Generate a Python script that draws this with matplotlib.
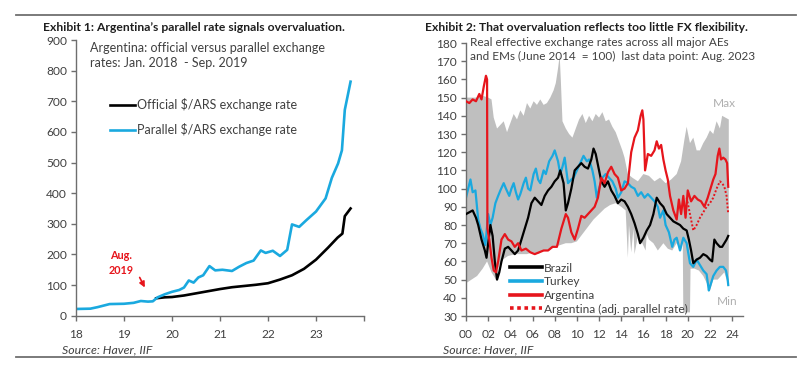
import numpy as np
import matplotlib
matplotlib.use("Agg")
import matplotlib.pyplot as plt
from matplotlib.lines import Line2D

plt.rcParams['font.family'] = ['Lato', 'DejaVu Sans']
plt.rcParams['font.size'] = 8

# ---- Exhibit 1 data: Argentina official vs parallel $/ARS ----
parallel_yr = [2018.0, 2018.3, 2018.45, 2018.6, 2018.7, 2019.0, 2019.2, 2019.35, 2019.5, 2019.6,
               2019.7, 2019.85, 2020.0, 2020.15, 2020.25, 2020.35, 2020.45, 2020.55, 2020.65, 2020.78,
               2020.9, 2021.05, 2021.25, 2021.4, 2021.55, 2021.7, 2021.85, 2021.95, 2022.1, 2022.25,
               2022.4, 2022.5, 2022.65, 2022.8, 2023.0, 2023.2, 2023.33, 2023.46, 2023.54, 2023.6, 2023.72]
parallel_val = [22, 23, 28, 34, 38, 39, 42, 48, 46, 47,
                60, 70, 78, 84, 92, 115, 108, 125, 132, 162,
                148, 150, 146, 160, 172, 180, 213, 205, 212, 195,
                215, 298, 290, 312, 340, 383, 450, 497, 540, 672, 764]
official_yr = [2019.67, 2019.85, 2020.0, 2020.25, 2020.5, 2020.75, 2021.0, 2021.25, 2021.5, 2021.75,
               2022.0, 2022.25, 2022.5, 2022.75, 2023.0, 2023.25, 2023.45, 2023.55, 2023.6, 2023.72]
official_val = [57, 60, 61, 66, 73, 80, 87, 93, 97, 101,
                106, 118, 132, 153, 183, 222, 255, 268, 325, 350]

# ---- Exhibit 2 data: real effective exchange rates (June 2014 = 100) ----
max_yr = [2000.0, 2000.5, 2001.0, 2001.5, 2002.0, 2002.3, 2002.5, 2002.8, 2003.1, 2003.4,
          2003.7, 2004.0, 2004.3, 2004.6, 2004.9, 2005.2, 2005.5, 2005.8, 2006.1, 2006.4,
          2006.7, 2007.0, 2007.3, 2007.6, 2007.9, 2008.1, 2008.3, 2008.45, 2008.55, 2008.7,
          2009.0, 2009.3, 2009.6, 2009.9, 2010.2, 2010.5, 2010.8, 2011.1, 2011.4, 2011.7,
          2012.0, 2012.3, 2012.6, 2012.9, 2013.2, 2013.5, 2013.8, 2014.1, 2014.3, 2014.6,
          2015.0, 2015.5, 2016.0, 2016.5, 2017.0, 2017.5, 2018.0, 2018.5, 2019.0, 2019.4,
          2019.7, 2019.9, 2020.2, 2020.5, 2020.8, 2021.1, 2021.4, 2021.7, 2022.0, 2022.3,
          2022.6, 2022.9, 2023.1, 2023.4, 2023.7]
max_val = [150, 150, 150, 151, 150, 149, 139, 133, 135, 137,
           131, 136, 141, 138, 143, 140, 147, 144, 148, 146,
           149, 146, 147, 150, 154, 158, 166, 173, 160, 137,
           133, 130, 128, 133, 138, 141, 136, 140, 137, 141,
           139, 142, 137, 138, 134, 131, 126, 121, 117, 108,
           106, 104, 108, 107, 104, 106, 103, 105, 108, 115,
           127, 134, 125, 128, 121, 121, 125, 128, 132, 130,
           137, 133, 140, 139, 138]
min_yr = [2000.0, 2000.5, 2001.0, 2001.5, 2001.9, 2002.3, 2002.7, 2003.0, 2003.3, 2003.8,
          2004.5, 2005.0, 2005.5, 2006.0, 2006.5, 2007.0, 2007.5, 2008.0, 2008.5, 2009.0,
          2009.5, 2010.0, 2010.5, 2011.0, 2011.5, 2012.0, 2012.5, 2013.0, 2013.5, 2014.0,
          2014.4, 2014.6, 2014.7, 2014.9, 2015.1, 2015.2, 2015.5, 2015.9, 2016.2, 2016.3,
          2016.5, 2016.9, 2017.3, 2017.8, 2018.2, 2018.6, 2019.0, 2019.4, 2019.55, 2019.6,
          2020.2, 2020.25, 2020.6, 2021.0, 2021.4, 2021.8, 2022.0, 2022.3, 2022.7, 2023.0,
          2023.3, 2023.6, 2023.7]
min_val = [48, 50, 52, 56, 60, 54, 50, 58, 61, 63,
           64, 64, 64, 65, 64, 66, 66, 68, 69, 70,
           70, 71, 75, 79, 83, 86, 89, 91, 92, 90,
           88, 62, 80, 65, 78, 64, 74, 70, 66, 75,
           72, 70, 66, 70, 67, 66, 70, 66, 72, 32,
           32, 56, 56, 55, 52, 47, 44, 50, 50, 52,
           54, 48, 46]

brazil_yr = [2000.0, 2000.3, 2000.6, 2000.9, 2001.1, 2001.4, 2001.7, 2001.85, 2002.0, 2002.2,
             2002.4, 2002.6, 2002.8, 2003.0, 2003.2, 2003.5, 2003.8, 2004.1, 2004.4, 2004.7,
             2005.0, 2005.3, 2005.6, 2005.9, 2006.2, 2006.5, 2006.8, 2007.1, 2007.4, 2007.7,
             2008.0, 2008.3, 2008.5, 2008.8, 2009.0, 2009.2, 2009.5, 2009.8, 2010.1, 2010.4,
             2010.7, 2011.0, 2011.3, 2011.5, 2011.7, 2011.9, 2012.2, 2012.5, 2012.8, 2013.1,
             2013.4, 2013.7, 2014.0, 2014.3, 2014.6, 2014.9, 2015.2, 2015.5, 2015.7, 2016.0,
             2016.3, 2016.6, 2016.9, 2017.2, 2017.5, 2017.8, 2018.1, 2018.4, 2018.7, 2019.0,
             2019.3, 2019.6, 2019.9, 2020.1, 2020.3, 2020.5, 2020.8, 2021.1, 2021.4, 2021.7,
             2022.0, 2022.2, 2022.4, 2022.6, 2022.9, 2023.1, 2023.3, 2023.5, 2023.65]
brazil_val = [86, 87, 88, 84, 80, 72, 66, 62, 70, 80,
              74, 60, 50, 54, 60, 67, 68, 66, 64, 66,
              72, 78, 84, 92, 95, 93, 91, 96, 99, 101,
              104, 106, 110, 103, 88, 92, 100, 110, 112, 114,
              112, 111, 116, 122, 119, 113, 104, 101, 104, 99,
              96, 92, 94, 93, 90, 86, 81, 75, 70, 73,
              77, 80, 86, 95, 92, 90, 86, 84, 82, 81,
              80, 78, 77, 72, 66, 59, 61, 62, 64, 63,
              61, 60, 72, 70, 68, 68, 70, 72, 74]

turkey_yr = [2000.0, 2000.2, 2000.4, 2000.6, 2000.85, 2001.1, 2001.3, 2001.5, 2001.75, 2002.0,
             2002.2, 2002.4, 2002.65, 2002.9, 2003.1, 2003.4, 2003.6, 2003.9, 2004.1, 2004.3,
             2004.5, 2004.7, 2004.9, 2005.2, 2005.4, 2005.6, 2005.8, 2006.1, 2006.3, 2006.5,
             2006.7, 2007.0, 2007.2, 2007.5, 2007.8, 2008.0, 2008.3, 2008.5, 2008.7, 2008.9,
             2009.2, 2009.5, 2009.7, 2010.0, 2010.3, 2010.6, 2010.9, 2011.1, 2011.4, 2011.6,
             2011.8, 2012.0, 2012.3, 2012.6, 2012.9, 2013.2, 2013.5, 2013.7, 2014.0, 2014.3,
             2014.6, 2014.9, 2015.2, 2015.5, 2015.8, 2016.1, 2016.4, 2016.7, 2017.0, 2017.3,
             2017.5, 2017.8, 2018.0, 2018.3, 2018.6, 2018.8, 2019.0, 2019.3, 2019.6, 2019.9,
             2020.2, 2020.5, 2020.8, 2021.1, 2021.4, 2021.7, 2021.9, 2022.0, 2022.3, 2022.6,
             2022.9, 2023.2, 2023.45, 2023.6, 2023.65]
turkey_val = [95, 100, 105, 98, 99, 83, 78, 75, 69, 86,
              80, 84, 92, 96, 99, 103, 100, 96, 100, 103,
              98, 94, 97, 103, 106, 100, 99, 108, 111, 105,
              103, 110, 108, 115, 118, 121, 115, 108, 112, 117,
              103, 105, 106, 110, 114, 118, 115, 116, 110, 104,
              95, 100, 106, 108, 106, 104, 100, 95, 98, 104,
              103, 101, 100, 96, 98, 95, 97, 95, 93, 90,
              84, 88, 80, 76, 68, 72, 73, 66, 73, 70,
              59, 57, 61, 58, 55, 53, 44, 46, 52, 55,
              57, 57, 55, 50, 47]

arg_yr = [2000.0, 2000.3, 2000.6, 2000.9, 2001.2, 2001.4, 2001.6, 2001.8, 2001.9, 2001.93,
          2002.1, 2002.3, 2002.5, 2002.7, 2002.9, 2003.2, 2003.5, 2003.8, 2004.1, 2004.4,
          2004.7, 2005.0, 2005.4, 2005.8, 2006.2, 2006.6, 2007.0, 2007.4, 2007.8, 2008.2,
          2008.6, 2009.0, 2009.2, 2009.5, 2009.8, 2010.1, 2010.4, 2010.7, 2011.0, 2011.3,
          2011.6, 2011.9, 2012.2, 2012.5, 2012.8, 2013.1, 2013.4, 2013.7, 2014.0, 2014.3,
          2014.6, 2014.9, 2015.2, 2015.5, 2015.75, 2015.9, 2016.0, 2016.15, 2016.4, 2016.7,
          2017.0, 2017.2, 2017.4, 2017.6, 2017.8, 2018.0, 2018.2, 2018.4, 2018.7, 2019.0,
          2019.2, 2019.4, 2019.6, 2019.8, 2020.0, 2020.3, 2020.6, 2020.9, 2021.2, 2021.5,
          2021.8, 2022.0, 2022.3, 2022.5, 2022.7, 2022.85, 2023.0, 2023.2, 2023.4, 2023.55, 2023.65]
arg_val = [148, 147, 149, 148, 152, 149, 156, 162, 160, 78,
           72, 62, 55, 54, 60, 72, 75, 72, 71, 68,
           70, 66, 67, 65, 64, 65, 66, 66, 68, 68,
           78, 86, 84, 76, 72, 78, 85, 84, 86, 88,
           90, 95, 106, 103, 109, 112, 108, 106, 99, 100,
           103, 120, 128, 132, 140, 143, 138, 110, 119, 118,
           121, 126, 122, 124, 116, 110, 105, 96, 88, 83,
           94, 86, 96, 84, 99, 93, 96, 94, 93, 90,
           95, 99, 105, 108, 118, 122, 116, 117, 116, 114, 101]

arg_par_yr = [2019.9, 2020.2, 2020.5, 2020.8, 2021.1, 2021.4, 2021.7, 2022.0, 2022.3, 2022.6,
              2022.9, 2023.1, 2023.3, 2023.5, 2023.65]
arg_par_val = [95, 86, 77, 80, 84, 87, 90, 92, 95, 100,
               104, 103, 101, 96, 86]

BLUE = '#1aa9df'
RED = '#e6151c'
GREY_TXT = '#404040'

fig = plt.figure(figsize=(8, 3.66), dpi=100)


def style_axes(ax):
    for s in ['top', 'right']:
        ax.spines[s].set_visible(False)
    for s in ['left', 'bottom']:
        ax.spines[s].set_color('#6e6e6e')
        ax.spines[s].set_linewidth(1.0)
    ax.tick_params(direction='out', length=3.5, width=1.0, color='#6e6e6e',
                   labelsize=8.6, labelcolor=GREY_TXT, pad=3)


# ---------- Exhibit 1 ----------
ax1 = fig.add_axes([0.095, 0.1374, 0.36, 0.7533])
style_axes(ax1)
ax1.plot(official_yr, official_val, color='black', lw=1.9)
ax1.plot(parallel_yr, parallel_val, color=BLUE, lw=1.9)
ax1.set_xlim(2018, 2024)
ax1.set_ylim(0, 900)
ax1.set_yticks(range(0, 901, 100))
ax1.set_xticks(range(2018, 2025))
ax1.set_xticklabels(['18', '19', '20', '21', '22', '23', ''])
ax1.tick_params(axis='x', pad=6)

h = [Line2D([], [], color='black', lw=1.9), Line2D([], [], color=BLUE, lw=1.9)]
leg1 = ax1.legend(h, ['Official $/ARS exchange rate', 'Parallel $/ARS exchange rate'],
                  loc='upper left', bbox_to_anchor=(0.08, 0.83), frameon=False,
                  handlelength=2.0, handletextpad=0.1, labelspacing=0.95, fontsize=9)
for t in leg1.get_texts():
    t.set_color(GREY_TXT)

ax1.text(0.05, 0.993, 'Argentina: official versus parallel exchange\nrates: Jan. 2018  - Sep. 2019',
         transform=ax1.transAxes, va='top', ha='left', fontsize=9, color=GREY_TXT, linespacing=1.28)
ax1.annotate('', xy=(2019.46, 84), xytext=(2019.3, 133),
             arrowprops=dict(arrowstyle='-|>', color=RED, lw=1.2, mutation_scale=8))
ax1.text(2018.93, 195, 'Aug.', color=RED, fontsize=7.8, fontweight='bold', ha='center', va='center')
ax1.text(2018.93, 147, '2019', color=RED, fontsize=7.8, fontweight='bold', ha='center', va='center')

fig.text(0.054, 0.924, 'Exhibit 1: Argentina\u2019s parallel rate signals overvaluation.',
         fontsize=8.7, fontweight='bold', color='#1f1f1f', ha='left', va='center')
fig.text(0.0775, 0.045, 'Source: Haver, IIF', fontsize=8.8, style='italic', color=GREY_TXT,
         ha='left', va='center')

# ---------- Exhibit 2 ----------
ax2 = fig.add_axes([0.5825, 0.1366, 0.3465, 0.7459])
style_axes(ax2)
ax2.fill(np.r_[max_yr, min_yr[::-1]], np.r_[max_val, min_val[::-1]],
         color='#bfbfbf', lw=0, zorder=1)
ax2.plot(brazil_yr, brazil_val, color='black', lw=1.6, zorder=3, label='Brazil')
ax2.plot(turkey_yr, turkey_val, color=BLUE, lw=1.6, zorder=2, label='Turkey')
ax2.plot(arg_yr, arg_val, color=RED, lw=1.6, zorder=4, label='Argentina')
ax2.plot(arg_par_yr, arg_par_val, color=RED, lw=1.4, ls=(0, (1, 1)), zorder=4,
         label='Argentina (adj. parallel rate)')
ax2.set_xlim(2000, 2025)
ax2.set_ylim(30, 180)
ax2.set_yticks(range(30, 181, 10))
ax2.set_xticks(range(2000, 2025, 2))
ax2.set_xticklabels(['%02d' % (y % 100) for y in range(2000, 2025, 2)])
ax2.tick_params(axis='x', pad=6)

leg2 = ax2.legend(loc='lower left', bbox_to_anchor=(0.14, -0.012), frameon=False,
                  handlelength=2.7, handletextpad=0.15, labelspacing=0.22, fontsize=8.6,
                  borderaxespad=0)
for t in leg2.get_texts():
    t.set_color(GREY_TXT)
for l in leg2.get_lines():
    l.set_linewidth(2.6)

ax2.text(2022.3, 147, 'Max', color='#b0b0b0', fontsize=8.6, ha='left', va='center')
ax2.text(2022.6, 38, 'Min', color='#b0b0b0', fontsize=8.6, ha='left', va='center')
ax2.text(0.015, 1.022, 'Real effective exchange rates across all major AEs\nand EMs (June 2014  = 100)  last data point: Aug. 2023',
         transform=ax2.transAxes, va='top', ha='left', fontsize=8.5, color=GREY_TXT, linespacing=1.35)

fig.text(0.531, 0.924, 'Exhibit 2: That overvaluation reflects too little FX flexibility.',
         fontsize=8.7, fontweight='bold', color='#1f1f1f', ha='left', va='center')
fig.text(0.554, 0.045, 'Source: Haver, IIF', fontsize=8.8, style='italic', color=GREY_TXT,
         ha='left', va='center')

# separator rules
fig.add_artist(Line2D([0.02, 0.995], [0.96, 0.96], color='#707070', lw=1.3))
fig.add_artist(Line2D([0.02, 0.995], [0.025, 0.025], color='#707070', lw=1.3))

fig.savefig('out.png', dpi=100, facecolor='white')
